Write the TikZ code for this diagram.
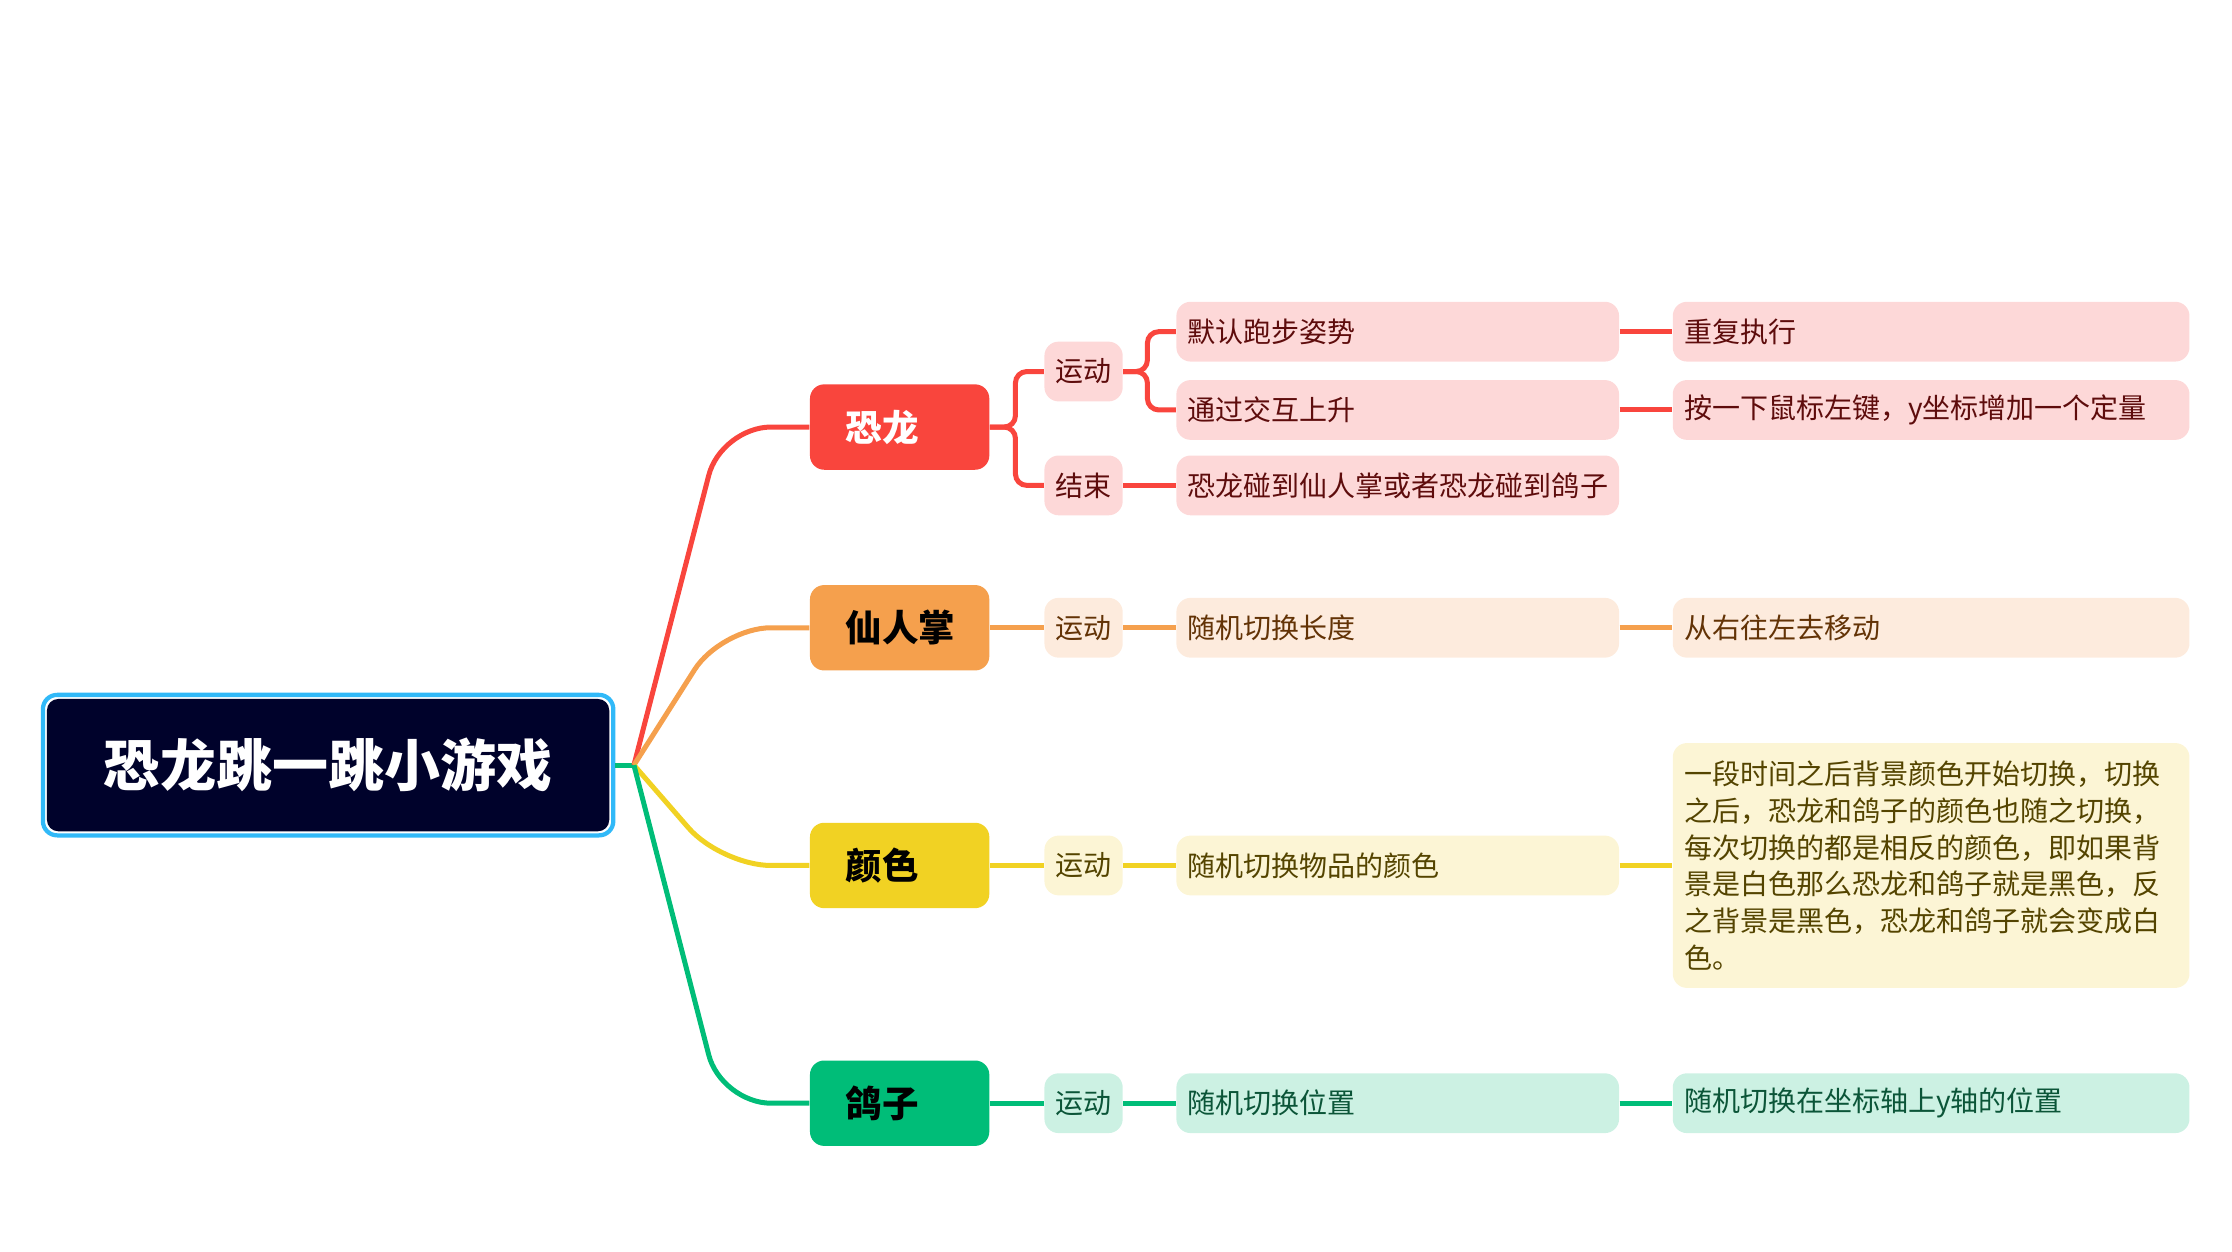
\documentclass[tikz,border=0pt]{standalone}
\usepackage{fontspec}
\setmainfont{Noto Sans CJK SC}
\usetikzlibrary{positioning,fit,calc}
\usepackage{xcolor}

\definecolor{rootbg}{HTML}{00022B}
\definecolor{rootedge}{HTML}{31B9F8}
\definecolor{klmain}{HTML}{F9453D}
\definecolor{kllight}{HTML}{FDD8D8}
\definecolor{kltext}{HTML}{5E0C0C}
\definecolor{xrmain}{HTML}{F5A04D}
\definecolor{xrlight}{HTML}{FDEBDD}
\definecolor{xrtext}{HTML}{633306}
\definecolor{ysmain}{HTML}{F1D223}
\definecolor{yslight}{HTML}{FCF5D5}
\definecolor{ystext}{HTML}{544400}
\definecolor{gzmain}{HTML}{00BD78}
\definecolor{gzlight}{HTML}{CCF1E3}
\definecolor{gztext}{HTML}{0B5538}

\begin{document}
\begin{tikzpicture}[
        root/.style={fill=rootbg, rounded corners=0.16cm, minimum width=7.9cm, minimum height=1.86cm,
                     text=white, font=\fontsize{22.4}{26}\selectfont\bfseries},
        topic/.style={rounded corners=0.2cm, text width=1.52cm, inner xsep=0.5cm, minimum height=1.2cm,
                      align=left, font=\fontsize{14.6}{17}\selectfont\bfseries},
        tag/.style={rounded corners=0.2cm, minimum width=1.1cm, minimum height=0.84cm, inner xsep=0.12cm,
                    font=\fontsize{11.2}{14.7}\selectfont},
        leaf/.style={tag, text width=5.9cm, inner xsep=0.16cm, align=left},
        note/.style={tag, text width=6.94cm, inner xsep=0.16cm, align=left},
        kl/.style={fill=kllight, text=kltext},
        xr/.style={fill=xrlight, text=xrtext},
        ys/.style={fill=yslight, text=ystext},
        gz/.style={fill=gzlight, text=gztext},
        link/.style={line width=2pt},
        stem/.style={link, rounded corners=0.7cm},
        fork/.style={link, rounded corners=0.16cm}
    ]
        \useasboundingbox (0,0) rectangle (31.36,-17.58);

        % centre
        \node[root] (root) at (4.61,-10.75) {恐龙跳一跳小游戏};
        \node[fit=(root), inner sep=0.05cm, draw=rootedge, line width=1.7pt, rounded corners=0.2cm] (frame) {};
        \coordinate[right=0.26cm of frame] (hub);

        % main topics
        \node[topic, fill=klmain, text=white] (kl) at (12.64,-6.0) {恐龙};
        \node[topic, fill=xrmain] (xr) at (12.64,-8.82) {仙人掌};
        \node[topic, fill=ysmain] (ys) at (12.64,-12.16) {颜色};
        \node[topic, fill=gzmain] (gz) at (12.64,-15.5) {鸽子};

        % 恐龙
        \node[tag, kl, right=0.76cm of kl, yshift=0.78cm] (klrun) {运动};
        \node[tag, kl, right=0.76cm of kl, yshift=-0.82cm] (klend) {结束};
        \node[leaf, kl, right=0.74cm of klrun, yshift=0.56cm] (klpose) {默认跑步姿势};
        \node[leaf, kl, right=0.74cm of klrun, yshift=-0.54cm] (klup) {通过交互上升};
        \node[leaf, kl, right=0.74cm of klend] (klhit) {恐龙碰到仙人掌或者恐龙碰到鸽子};
        \node[note, kl, right=0.74cm of klpose] (klloop) {重复执行};
        \node[note, kl, right=0.74cm of klup] (klclick) {按一下鼠标左键，y坐标增加一个定量};

        % 仙人掌
        \node[tag, xr, right=0.76cm of xr] (xrrun) {运动};
        \node[leaf, xr, right=0.74cm of xrrun] (xrlen) {随机切换长度};
        \node[note, xr, right=0.74cm of xrlen] (xrmove) {从右往左去移动};

        % 颜色
        \node[tag, ys, right=0.76cm of ys] (ysrun) {运动};
        \node[leaf, ys, right=0.74cm of ysrun] (ysobj) {随机切换物品的颜色};
        \node[note, ys, right=0.74cm of ysobj, minimum height=3.44cm] (ysbg) {一段时间之后背景颜色开始切换，切换\\
            之后，恐龙和鸽子的颜色也随之切换，\\
            每次切换的都是相反的颜色，即如果背\\
            景是白色那么恐龙和鸽子就是黑色，反\\
            之背景是黑色，恐龙和鸽子就会变成白\\
            色。};

        % 鸽子
        \node[tag, gz, right=0.76cm of gz] (gzrun) {运动};
        \node[leaf, gz, right=0.74cm of gzrun] (gzpos) {随机切换位置};
        \node[note, gz, right=0.74cm of gzpos] (gzaxis) {随机切换在坐标轴上y轴的位置};

        % connectors
        \draw[link, gzmain] (frame) -- (hub);
        \draw[stem, klmain] (hub) -- ($(kl.west)+(-1.24,0)$) -- (kl.west);
        \draw[stem, xrmain] (hub) -- ($(xr.west)+(-1.24,0)$) -- (xr.west);
        \draw[stem, ysmain] (hub) -- ($(ys.west)+(-1.24,0)$) -- (ys.west);
        \draw[stem, gzmain] (hub) -- ($(gz.west)+(-1.24,0)$) -- (gz.west);

        \draw[fork, klmain] (kl.east) -- ++(0.36,0) |- (klrun.west);
        \draw[fork, klmain] (kl.east) -- ++(0.36,0) |- (klend.west);
        \draw[fork, klmain] (klrun.east) -- ++(0.34,0) |- (klpose.west);
        \draw[fork, klmain] (klrun.east) -- ++(0.34,0) |- (klup.west);
        \draw[link, klmain] (klend) -- (klhit);
        \draw[link, klmain] (klpose) -- (klloop);
        \draw[link, klmain] (klup) -- (klclick);

        \draw[link, xrmain] (xr) -- (xrrun);
        \draw[link, xrmain] (xrrun) -- (xrlen);
        \draw[link, xrmain] (xrlen) -- (xrmove);

        \draw[link, ysmain] (ys) -- (ysrun);
        \draw[link, ysmain] (ysrun) -- (ysobj);
        \draw[link, ysmain] (ysobj) -- (ysbg);

        \draw[link, gzmain] (gz) -- (gzrun);
        \draw[link, gzmain] (gzrun) -- (gzpos);
        \draw[link, gzmain] (gzpos) -- (gzaxis);
    \end{tikzpicture}
\end{document}
